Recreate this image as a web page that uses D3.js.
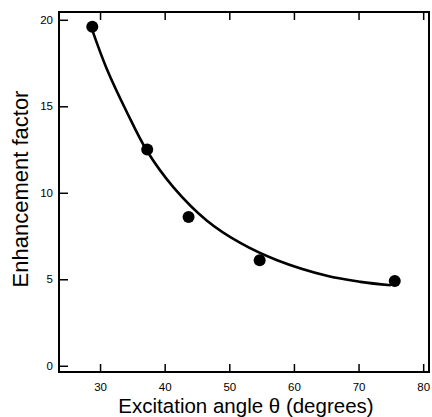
<!DOCTYPE html>
<html>
<head>
<meta charset="utf-8">
<script src="https://cdn.jsdelivr.net/npm/d3@7/dist/d3.min.js"></script>
<style>
  html, body { margin: 0; padding: 0; background: #fff; }
  svg { display: block; }
  text { font-family: "Liberation Sans", Arial, Helvetica, sans-serif; fill: #000; }
</style>
</head>
<body>
<svg id="chart" width="432" height="417"></svg>
<script>
// Measured points
const pointAngles = [28.8, 37.3, 43.7, 54.7, 75.6];
const pointFactors = [19.6, 12.5, 8.6, 6.1, 4.9];

// Fitted curve
const curveAngles  = [28.8, 31.0, 34.1, 37.3, 41.4, 46.5, 51.7, 57.4, 65.1, 70.3, 75.0];
const curveFactors = [19.4, 17.2, 14.7, 12.4, 10.3, 8.4, 7.1, 6.1, 5.2, 4.85, 4.65];

const xTicks = [30, 40, 50, 60, 70, 80];
const yTicks = [0, 5, 10, 15, 20];
const xTitle = "Excitation angle θ (degrees)";
const yTitle = "Enhancement factor";

const svg = d3.select("#chart");
const L = 59, R = 429, T = 12, B = 372;

const x = d3.scaleLinear().domain([23.65, 80.9]).range([L, R]);
const y = d3.scaleLinear().domain([-0.36, 20.45]).range([B, T]);

// Curve
const line = d3.line()
  .x((d, i) => x(curveAngles[i]))
  .y((d, i) => y(curveFactors[i]))
  .curve(d3.curveCatmullRom.alpha(0.5));
svg.append("path")
  .datum(curveAngles)
  .attr("d", line)
  .attr("fill", "none")
  .attr("stroke", "#000")
  .attr("stroke-width", 2.6);

// Points
svg.selectAll("circle.pt")
  .data(pointAngles)
  .enter().append("circle")
  .attr("class", "pt")
  .attr("cx", d => x(d))
  .attr("cy", (d, i) => y(pointFactors[i]))
  .attr("r", 6)
  .attr("fill", "#000");

// Axes (inward ticks)
const xb = svg.append("g").attr("transform", `translate(0,${B})`)
  .call(d3.axisBottom(x).tickValues(xTicks).tickSizeInner(-8).tickSizeOuter(0).tickPadding(11));
const xt = svg.append("g").attr("transform", `translate(0,${T})`)
  .call(d3.axisTop(x).tickValues(xTicks).tickSizeInner(-8).tickSizeOuter(0).tickFormat(""));
const yl = svg.append("g").attr("transform", `translate(${L},0)`)
  .call(d3.axisLeft(y).tickValues(yTicks).tickSizeInner(-9).tickSizeOuter(0).tickPadding(6));

[xb, xt, yl].forEach(g => {
  g.select(".domain").remove();
  g.selectAll(".tick line").attr("stroke", "#000").attr("stroke-width", 1.5);
  g.selectAll(".tick text").attr("font-size", 11.5).attr("fill", "#000")
    .style("font-family", "'Liberation Sans', Arial, Helvetica, sans-serif");
});

// Frame
svg.append("rect")
  .attr("x", L).attr("y", T)
  .attr("width", R - L).attr("height", B - T)
  .attr("fill", "none")
  .attr("stroke", "#000")
  .attr("stroke-width", 2);

// Titles
svg.append("text")
  .attr("x", (L + R) / 2 + 2)
  .attr("y", 413)
  .attr("text-anchor", "middle")
  .attr("font-size", 20.5)
  .attr("fill", "#000")
  .text(xTitle);

svg.append("text")
  .attr("transform", `translate(28,${189}) rotate(-90)`)
  .attr("text-anchor", "middle")
  .attr("font-size", 22)
  .attr("fill", "#000")
  .text(yTitle);
</script>
</body>
</html>
